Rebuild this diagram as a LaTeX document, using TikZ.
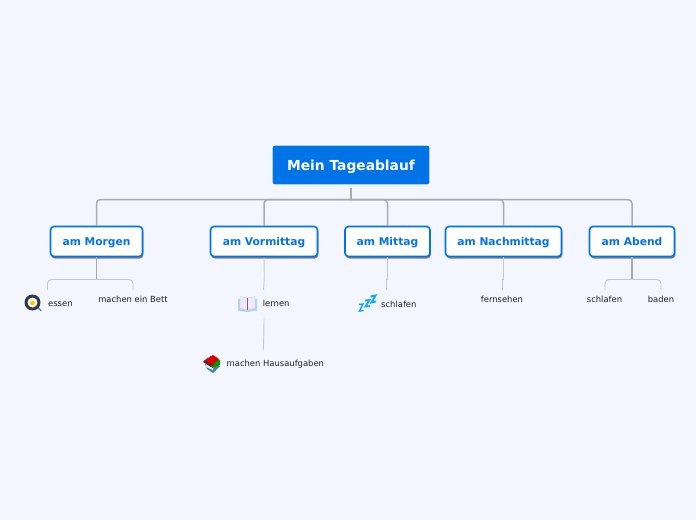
\documentclass[tikz,border=0pt]{standalone}
\usepackage{fontspec}
\setmainfont{DejaVu Sans}
\usetikzlibrary{shadows}

\definecolor{pagebg}{HTML}{F3F6FF}
\definecolor{mainblue}{HTML}{0073E6}
\definecolor{busgray}{HTML}{ABABAB}
\definecolor{twiggray}{HTML}{C3C6CE}
\definecolor{leafink}{HTML}{222222}
\definecolor{panink}{HTML}{303A46}
\definecolor{sleepblue}{HTML}{12A9F0}
\definecolor{bookblue}{HTML}{B5D3EA}

\tikzset{
  rootbox/.style={draw=white,line width=1.2pt,fill=mainblue,text=white,rounded corners=2.5pt,
    minimum width=158pt,minimum height=40pt,inner sep=0pt,text height=10.6pt,text depth=0pt,
    font=\bfseries\fontsize{13.8}{16}\selectfont},
  topicbox/.style={draw=mainblue,line width=1.6pt,fill=white,text=mainblue,rounded corners=3.5pt,
    minimum height=30pt,inner sep=0pt,text height=8.4pt,text depth=0pt,
    font=\bfseries\fontsize{10.7}{13}\selectfont,
    drop shadow={shadow xshift=0.8pt,shadow yshift=-2pt,fill=black!80,opacity=0.6}},
  leaf/.style={text=leafink,inner sep=0pt,font=\fontsize{8.4}{10}\selectfont},
  bus/.style={draw=busgray,line width=1.5pt,rounded corners=4pt},
  twig/.style={draw=twiggray,line width=0.9pt,rounded corners=4pt}
}

\begin{document}
\begin{tikzpicture}[x=1pt,y=-1pt]
\useasboundingbox[fill=pagebg] (0,0) rectangle (696,520);

\coordinate (bus) at (351,199.5);

\node[rootbox] (root) at (351,165) {Mein Tageablauf};

\node[topicbox,minimum width=92pt] (morgen) at (96.5,241.5) {am Morgen};
\node[topicbox,minimum width=107pt] (vormittag) at (264,241.5) {am Vormittag};
\node[topicbox,minimum width=85pt] (mittag) at (387.5,241.5) {am Mittag};
\node[topicbox,minimum width=116pt] (nachmittag) at (503.5,241.5) {am Nachmittag};
\node[topicbox,minimum width=85pt] (abend) at (632,241.5) {am Abend};

\node[leaf,anchor=west] (essen) at (48,304.2) {essen};
\node[leaf] (bett) at (133,299.5) {machen ein Bett};
\node[leaf,anchor=west] (lernen) at (262.7,303.5) {lernen};
\node[leaf,anchor=west] (hausaufgaben) at (226.5,364.3) {machen Hausaufgaben};
\node[leaf,anchor=west] (schlafenA) at (381,304.5) {schlafen};
\node[leaf] (fernsehen) at (502,299.5) {fernsehen};
\node[leaf] (schlafenB) at (604.5,299.5) {schlafen};
\node[leaf] (baden) at (661,299.5) {baden};

\coordinate (morgenfork) at (96.5,279.5);
\coordinate (abendfork) at (632,279.5);
\coordinate (essentop) at (47.5,290);
\coordinate (betttop) at (133,290);
\coordinate (lernentop) at (263.5,290);
\coordinate (lernenfoot) at (264,319);
\coordinate (hausaufgabentop) at (263.2,350);
\coordinate (mittagtop) at (386,290);
\coordinate (nachmittagtop) at (502,290);
\coordinate (schlafenBtop) at (605,290);
\coordinate (badentop) at (661,290);

\draw[bus,shorten <=2pt] (root.south) -- (bus);
\draw[bus] (bus) -| (morgen.north);
\draw[bus] (bus) -| (vormittag.north);
\draw[bus] (bus) -| (mittag.north);
\draw[bus] (bus) -| (nachmittag.north);
\draw[bus] (bus) -| (abend.north);

\draw[busgray,line width=1.2pt] (morgen.south) -- (morgenfork);
\draw[twig] (morgenfork) -| (essentop);
\draw[twig] (morgenfork) -| (betttop);
\draw[twig] (vormittag.south) -- (264.3,279) -- (lernentop);
\draw[twig] (lernenfoot) -- (263.8,338) -- (hausaufgabentop);
\draw[twig,rounded corners=0pt] (mittag.south) -- (387.5,279) -- (386,279) -- (mittagtop);
\draw[twig,rounded corners=0pt] (nachmittag.south) -- (503.5,279) -- (502,279) -- (nachmittagtop);
\draw[busgray,line width=1.2pt] (abend.south) -- (abendfork);
\draw[twig] (abendfork) -| (schlafenBtop);
\draw[twig] (abendfork) -| (badentop);

% pan
\draw[gray,line width=1.5pt,line cap=round] (37.5,307.5) -- (41,310.5);
\fill[panink] (32.5,302.5) circle (8);
\fill[white!92!yellow] (32.5,302.5) circle (5);
\fill[orange!45!yellow] (32.5,303) circle (2.3);

% book
\fill[bookblue] (238,298.5) -- (247.5,300) -- (257,298.5) -- (257,310.5) -- (247.5,312) -- (238,310.5) -- cycle;
\fill[white!92!blue,draw=gray!40,line width=0.4pt] (240,296.5) -- (247.5,298) -- (255,296.5) -- (255,308.5) -- (247.5,310) -- (240,308.5) -- cycle;
\draw[red!40!gray,line width=0.7pt] (247.5,298) -- (247.5,310);

% sleep
\draw[sleepblue,line width=1.5pt,line join=miter] (359,304.5) -- (363,304) -- (359.5,311) -- (363.5,310.5);
\draw[sleepblue,line width=1.7pt,line join=miter] (365,300.5) -- (369.5,300) -- (365.5,306.5) -- (370,306);
\draw[sleepblue,line width=1.9pt] (370.5,296.5) -- (375.5,295.5) -- (371.5,302.5) -- (376,301.5);

% stack of books
\fill[cyan!60!black] (205,364) -- (212,362) -- (220,366) -- (213,373) -- (207,369) -- cycle;
\fill[white!85!gray] (206,364) -- (213,367) -- (213,370) -- (206,367) -- cycle;
\fill[green!60!black] (210,356) -- (220,360) -- (220,365) -- (212,368) -- cycle;
\fill[black!65!gray] (203,362) -- (208,358) -- (214,364) -- (211,367) -- cycle;
\fill[red!85!black] (204,360.5) -- (213,355) -- (219,359) -- (212,365.5) -- cycle;
\end{tikzpicture}
\end{document}
